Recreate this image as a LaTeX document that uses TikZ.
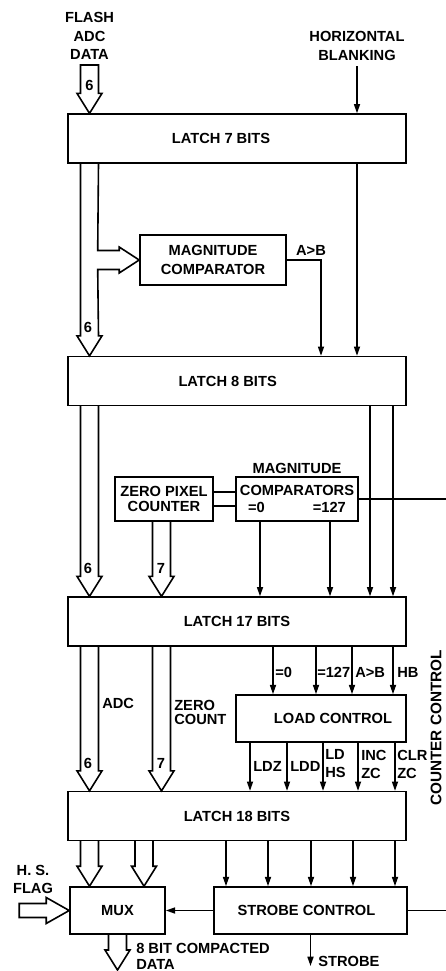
\documentclass[tikz,border=0pt]{standalone}
\usepackage{fontspec}
\setmainfont{Liberation Sans}
\usetikzlibrary{arrows.meta,positioning,calc}
\definecolor{ink}{RGB}{0,0,0}
\tikzset{
  latchbox/.style={draw=ink,line width=1.2pt,minimum width=253.5pt,
    minimum height=36.5pt,inner sep=0pt,font=\fontsize{11}{13}\selectfont\bfseries,text=ink},
  unitbox/.style={draw=ink,line width=1.2pt,inner sep=0pt,align=center,
    font=\fontsize{11}{13}\selectfont\bfseries,text=ink},
  sigflow/.style={draw=ink,line width=1.2pt,-{Triangle[length=7pt,width=4.5pt]}},
  wire/.style={draw=ink,line width=1.2pt},
  bus/.style={draw=ink,line width=1.2pt,line join=miter},
  lbl/.style={inner sep=0pt,align=center,font=\fontsize{11}{13.5}\selectfont\bfseries,text=ink},
  bitnum/.style={inner sep=0pt,font=\fontsize{11}{13}\selectfont\bfseries,text=ink}
}
\newcommand{\busdown}[3][]{%
  \draw[bus] ($(#2)+(-9,0)$) -- ($(#3)+(-9,-20)$) -- ($(#3)+(-12.5,-20)$) -- (#3)
    -- ($(#3)+(12.5,-20)$) -- ($(#3)+(9,-20)$) -- ($(#2)+(9,0)$) #1;}

\begin{document}
\begin{tikzpicture}[x=0.75pt,y=-0.75pt]
  \useasboundingbox (0,0) rectangle (446,971);

  \coordinate (cA) at (89.5,0);
  \coordinate (cZ) at (161.5,0);
  \coordinate (cM) at (144,0);
  \coordinate (cntctl) at (446,0);
  \coordinate (adcin) at (89.5,65);
  \coordinate (dataout) at (117.5,970);
  \coordinate (strobeout) at (310.5,966);

  \node[latchbox] (latch7) at (237,138.5) {LATCH 7 BITS\hspace*{24pt}};
  \node[latchbox] (latch8) at (237,381) {LATCH 8 BITS\hspace*{14pt}};
  \node[latchbox] (latch17) at (237,621.5) {LATCH 17 BITS};
  \node[latchbox] (latch18) at (237,816) {LATCH 18 BITS};

  \node[unitbox,minimum width=109.5pt,minimum height=37.5pt,
    font=\fontsize{11}{14}\selectfont\bfseries] (magcomp) at (213,260) {MAGNITUDE\\COMPARATOR};
  \node[unitbox,minimum width=73.5pt,minimum height=33pt,
    font=\fontsize{11}{11.5}\selectfont\bfseries] (zerocnt) at (164,499) {ZERO PIXEL\\COUNTER};
  \node[unitbox,minimum width=91.5pt,minimum height=33pt,
    font=\fontsize{11}{12.5}\selectfont\bfseries] (magcomps) at (297,499) {COMPARATORS\\=0\hspace{36pt}=127};
  \node[lbl,above=1.5pt of magcomps] (magtitle) {MAGNITUDE};
  \node[unitbox,minimum width=127.5pt,minimum height=35.25pt] (loadctl) at (321,718.5) {\hspace*{18pt}LOAD CONTROL};
  \node[unitbox,minimum width=71.25pt,minimum height=35.25pt] (mux) at (117.5,910.5) {MUX};
  \node[unitbox,minimum width=144.75pt,minimum height=35.25pt] (strobe) at (310.5,910.5) {STROBE CONTROL\hspace*{6pt}};

  \node[lbl,font=\fontsize{11}{14}\selectfont\bfseries] (flashlbl) at (89.5,36) {FLASH\\ADC\\DATA};
  \node[lbl,font=\fontsize{11}{14.5}\selectfont\bfseries] (hblank) at (357,46) {HORIZONTAL\\BLANKING};

  \busdown[-- cycle]{adcin}{latch7.north -| cA}
  \node[bitnum] (w1) at (89.5,85) {6};
  \path (hblank.south) edge[sigflow,shorten <=3.75pt] (hblank.south |- latch7.north);

  \draw[bus] ($(latch7.south -| cA)+(-9,0)$) -- ($(latch8.north -| cA)+(-9,-20)$)
    -- ($(latch8.north -| cA)+(-12.5,-20)$) -- (latch8.north -| cA)
    -- ($(latch8.north -| cA)+(12.5,-20)$) -- ($(latch8.north -| cA)+(9,-20)$)
    -- ($(magcomp.west)+(-41.5,9.5)$) -- ($(magcomp.west)+(-20,9.5)$)
    -- ($(magcomp.west)+(-20,13)$) -- (magcomp.west) -- ($(magcomp.west)+(-20,-13)$)
    -- ($(magcomp.west)+(-20,-9.5)$) -- ($(magcomp.west)+(-41.5,-9.5)$)
    -- ($(latch7.south -| cA)+(9,0)$);
  \node[bitnum] (w2) at (88,327.5) {6};
  \draw[sigflow] (magcomp.east) -| (latch8.north -| 321,0);
  \node[lbl] (agtb1) at (311,250) {A>B};
  \path (latch7.south -| 357,0) edge[sigflow] (latch8.north -| 357,0);

  \busdown{latch8.south -| cA}{latch17.north -| cA}
  \busdown{zerocnt.south -| cZ}{latch17.north -| cZ}
  \node[bitnum] (w3) at (88,568) {6};
  \node[bitnum] (w4) at (161,568) {7};
  \foreach \x in {370,393} \path (latch8.south -| \x,0) edge[sigflow] (latch17.north -| \x,0);
  \foreach \x in {260,330} \path (magcomps.south -| \x,0) edge[sigflow] (latch17.north -| \x,0);
  \draw[wire] ([yshift=5.25pt]zerocnt.east) -- ([yshift=5.25pt]magcomps.west);
  \draw[wire] ([yshift=-5.25pt]zerocnt.east) -- ([yshift=-5.25pt]magcomps.west);
  \draw[wire] (magcomps.east) -- (magcomps.east -| cntctl);

  \busdown{latch17.south -| cA}{latch18.north -| cA}
  \busdown{latch17.south -| cZ}{latch18.north -| cZ}
  \node[bitnum] (w5) at (88,763) {6};
  \node[bitnum] (w6) at (161,763) {7};
  \node[lbl,anchor=west] (adclbl) at (102,703) {ADC};
  \node[lbl,anchor=west,align=left,font=\fontsize{11}{10.5}\selectfont\bfseries] (zclbl) at (174,712) {ZERO\\COUNT};

  \foreach \x in {273,316,352,393} \path (latch17.south -| \x,0) edge[sigflow] (loadctl.north -| \x,0);
  \node[lbl,anchor=west] (eq0) at (275,672) {=0};
  \node[lbl,anchor=west] (eq127) at (317,672) {=127};
  \node[lbl,anchor=west] (agtb2) at (355,672) {A>B};
  \node[lbl,anchor=west] (hblbl) at (397,672) {HB};

  \foreach \x in {250,287,323,358,395} \path (loadctl.south -| \x,0) edge[sigflow] (latch18.north -| \x,0);
  \node[lbl,anchor=west] (ldz) at (253,766) {LDZ};
  \node[lbl,anchor=west] (ldd) at (290,766) {LDD};
  \node[lbl,anchor=west,align=left] (ldhs) at (325,764) {LD\\HS};
  \node[lbl,anchor=west,align=left] (inczc) at (361,764) {INC\\ZC};
  \node[lbl,anchor=west,align=left] (clrzc) at (397,764) {CLR\\ZC};
  \node[lbl,rotate=90,font=\fontsize{11.5}{14}\selectfont\bfseries] (cntlbl) at (436,728) {COUNTER CONTROL};

  \busdown{latch18.south -| cA}{mux.north -| cA}
  \busdown{latch18.south -| cM}{mux.north -| cM}
  \foreach \x in {226,268,311,353,395} \path (latch18.south -| \x,0) edge[sigflow] (strobe.north -| \x,0);
  \path (strobe.west) edge[sigflow] (mux.east);
  \draw[wire] (strobe.east) -- (strobe.east -| cntctl);

  \node[lbl] (hslbl) at (33,879) {H. S.\\FLAG};
  \draw[bus] ($(mux.west)+(-50,-7)$) -- ($(mux.west)+(-23,-7)$) -- ($(mux.west)+(-23,-13)$)
    -- (mux.west) -- ($(mux.west)+(-23,13)$) -- ($(mux.west)+(-23,7)$)
    -- ($(mux.west)+(-50,7)$) -- cycle;

  \busdown{mux.south}{dataout}
  \node[lbl,anchor=west,align=left,font=\fontsize{11}{12}\selectfont\bfseries] (datalbl) at (136,956) {8 BIT COMPACTED\\DATA};
  \path (strobe.south) edge[sigflow] (strobeout);
  \node[lbl,anchor=west] (strobelbl) at (318,961) {STROBE};
\end{tikzpicture}
\end{document}
